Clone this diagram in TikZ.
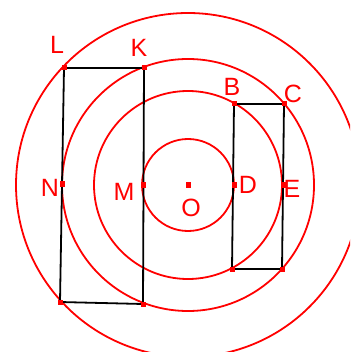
\documentclass[tikz,border=0pt]{standalone}
\usepackage{fontspec}
\setmainfont{Liberation Sans}
\begin{document}
\begin{tikzpicture}[x=1pt,y=-1pt,
  circ/.style={draw=red,line width=1.8pt},
  seg/.style={draw=black,line width=1.8pt},
  pt/.style={fill=red,minimum size=5pt,inner sep=0pt,draw=none,rectangle},
  lab/.style={text=red,font=\fontsize{25}{25}\selectfont,inner sep=0pt}]
\useasboundingbox (0,0) rectangle (350,352);
\clip (0,0) rectangle (350,352);
\coordinate (O) at (188,185);
\draw[circ] (O) circle (46);
\draw[circ] (O) circle (94);
\draw[circ] (O) circle (126);
\draw[circ] (O) circle (172);
% left rectangle
\coordinate (L) at (64,68);
\coordinate (K) at (144,68);
\coordinate (N) at (62,184);
\coordinate (M) at (143,185);
\coordinate (P) at (60,302);
\coordinate (Q) at (143,304);
% right rectangle
\coordinate (B) at (234,104);
\coordinate (C) at (284,104);
\coordinate (D) at (234,185);
\coordinate (E) at (283,185);
\coordinate (R) at (232,269);
\coordinate (S) at (282,269);
\draw[seg] (L) -- (K) -- (Q) -- (P) -- cycle;
\draw[seg] (B) -- (C) -- (S) -- (R) -- cycle;
\foreach \p in {O,L,K,N,M,P,Q,B,C,D,E,R,S}
  \node[pt] at (\p) {};
\node[lab] (tL) at (57,45) {L};
\node[lab] (tK) at (139,48) {K};
\node[lab] (tB) at (232,87) {B};
\node[lab] (tC) at (293,94) {C};
\node[lab] (tN) at (50,188) {N};
\node[lab] (tM) at (124,192) {M};
\node[lab] (tD) at (248,185) {D};
\node[lab] (tE) at (292,189) {E};
\node[lab] (tO) at (191,208) {O};
\end{tikzpicture}
\end{document}
